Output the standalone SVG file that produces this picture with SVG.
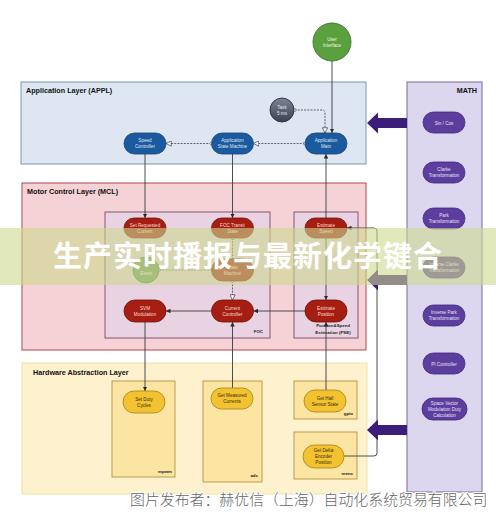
<svg xmlns="http://www.w3.org/2000/svg" width="496" height="514" viewBox="0 0 496 514">
<defs>
<style>
.layer{font-family:"Liberation Sans",Arial,sans-serif;font-weight:700;font-size:7.2px;fill:#111}
.sub{font-family:"Liberation Sans",Arial,sans-serif;font-weight:700;font-size:4.4px;fill:#222}
.nt{font-family:"Liberation Sans",Arial,sans-serif;font-size:4.6px;text-anchor:middle}
.blue rect{fill:#1b5a9f;stroke:#134577;stroke-width:0.8}
.blue text{fill:#dfe8f4}
.red rect{fill:#a61e12;stroke:#6e120a;stroke-width:0.8}
.red text{fill:#f5dcd5}
.yel rect{fill:#f2c230;stroke:#a5821c;stroke-width:0.8}
.yel text{fill:#3a2e0a}
.pur rect{fill:#5b3e9e;stroke:#3f2a78;stroke-width:0.8}
.pur text{fill:#e8e0f6}
.ln{fill:none;stroke:#3a3a3a;stroke-width:0.9}
.ds{fill:none;stroke:#555;stroke-width:0.9;stroke-dasharray:2 1.2}
.big{fill:#3b1d7a}
</style>
<linearGradient id="gt" x1="0" y1="0" x2="0" y2="1">
<stop offset="0" stop-color="#7b8396"/><stop offset="1" stop-color="#3a4152"/>
</linearGradient>
<marker id="af" viewBox="0 0 6 6" refX="6" refY="3" markerWidth="4.5" markerHeight="4.5" markerUnits="userSpaceOnUse" orient="auto-start-reverse"><path d="M0,0 L6,3 L0,6 z" fill="#2a2a2a"/></marker>
<marker id="ao" viewBox="0 0 8 8" refX="7.5" refY="4" markerWidth="6" markerHeight="6" markerUnits="userSpaceOnUse" orient="auto"><path d="M0.5,0.5 L7.5,4 L0.5,7.5 z" fill="#fff" stroke="#333" stroke-width="0.9"/></marker>
<marker id="cs" viewBox="0 0 6 6" refX="3" refY="3" markerWidth="4" markerHeight="4" markerUnits="userSpaceOnUse"><circle cx="3" cy="3" r="2.3" fill="#fff" stroke="#444" stroke-width="0.9"/></marker>
</defs>
<rect width="496" height="514" fill="#fff"/>

<!-- layers -->
<g id="appl-layer">
<rect x="21" y="82" width="345" height="82" fill="#dde6f1" stroke="#7d97ad" stroke-width="1"/>
<text class="layer" x="26" y="93">Application Layer (APPL)</text>
</g>
<g id="mcl-layer">
<rect x="22" y="183" width="344" height="167" fill="#f5d2d5" stroke="#b4444e" stroke-width="1"/>
<text class="layer" x="27" y="194">Motor Control Layer (MCL)</text>
<rect x="105" y="212" width="165" height="126" fill="#e9d2e2" stroke="#7a4a66" stroke-width="0.9"/>
<text class="sub" x="263" y="333" text-anchor="end">FOC</text>
<rect x="294" y="212" width="64" height="126" fill="#e9d2e2" stroke="#7a4a66" stroke-width="0.9"/>
<text class="sub" x="333" y="327" text-anchor="middle">Position&amp;Speed</text>
<text class="sub" x="333" y="334" text-anchor="middle">Estimation (PSE)</text>
</g>
<g id="hal-layer">
<rect x="22" y="363" width="345" height="131" fill="#fef1cd" stroke="#f1e1a6" stroke-width="1"/>
<text class="layer" x="33" y="375">Hardware Abstraction Layer</text>
<rect x="112" y="381" width="63" height="96" fill="#fce4a2" stroke="#b39444" stroke-width="0.9"/>
<text class="sub" x="172" y="473" text-anchor="end">mpwm</text>
<rect x="203" y="381" width="59" height="101" fill="#fce4a2" stroke="#b39444" stroke-width="0.9"/>
<text class="sub" x="258" y="477" text-anchor="end">adc</text>
<rect x="294" y="381" width="63" height="38" fill="#fce4a2" stroke="#b39444" stroke-width="0.9"/>
<text class="sub" x="353" y="415" text-anchor="end">gpio</text>
<rect x="294" y="432" width="63" height="47" fill="#fce4a2" stroke="#b39444" stroke-width="0.9"/>
<text class="sub" x="353" y="475" text-anchor="end">menc</text>
</g>
<g id="math-layer">
<rect x="407" y="82" width="75" height="410" fill="#dcd6ee" stroke="#7a6a9a" stroke-width="1"/>
<text class="layer" x="477" y="93" text-anchor="end">MATH</text>
</g>

<!-- connectors -->
<g id="connectors">
<path class="ln" d="M332,61 V133" marker-end="url(#af)"/>
<path class="ds" d="M294.5,110 H322 Q325,110 325,113 V133" marker-start="url(#cs)" marker-end="url(#ao)"/>
<path class="ds" d="M305,143.5 H253.5" marker-start="url(#cs)" marker-end="url(#ao)"/>
<path class="ds" d="M211.5,143.5 H166" marker-start="url(#cs)" marker-end="url(#ao)"/>
<path class="ln" d="M145,154 V218" marker-end="url(#af)"/>
<path class="ln" d="M232.5,154 V218" marker-end="url(#af)"/>
<path class="ln" d="M326,154 V300" marker-start="url(#af)" marker-end="url(#af)"/>
<path class="ds" d="M232.5,238 V259" marker-start="url(#cs)"/>
<path class="ds" d="M159,270 H211.5" marker-start="url(#cs)"/>
<path class="ds" d="M232.5,281 V300" marker-start="url(#cs)" marker-end="url(#ao)"/>
<path class="ln" d="M211.5,311 H166" marker-end="url(#af)"/>
<path class="ln" d="M305,311 H253.5" marker-end="url(#af)"/>
<path class="ln" d="M145,322 V391" marker-end="url(#af)"/>
<path class="ln" d="M232.5,388 V322" marker-end="url(#af)"/>
<path class="ln" d="M326,390 V322" marker-end="url(#af)"/>
<path class="ln" d="M344,456 H374 Q377,456 377,453 V231 Q377,228 374,228 H347" marker-end="url(#af)"/>
<polygon class="big" points="367,123 378,112.5 378,118 407,118 407,128 378,128 378,133.5"/>
<polygon class="big" points="367,280 378,269.5 378,275 407,275 407,285 378,285 378,290.5"/>
<polygon class="big" points="367,430 378,419.5 378,425 407,425 407,435 378,435 378,440.5"/>
</g>

<!-- APPL nodes -->
<g id="user-interface">
<circle cx="332" cy="42" r="19" fill="#5aa03c" stroke="#3c7028" stroke-width="0.9"/>
<text class="nt" fill="#eef6e8"><tspan x="332" y="41">User</tspan><tspan x="332" y="47">Interface</tspan></text>
</g>
<g id="task-5ms">
<circle cx="282" cy="110" r="12" fill="url(#gt)" stroke="#2a2f3a" stroke-width="0.9"/>
<text class="nt" fill="#e6e8ee"><tspan x="282" y="109">Task</tspan><tspan x="282" y="115">5 ms</tspan></text>
</g>
<g id="speed-controller" class="blue">
<rect x="124" y="133" width="42" height="21" rx="10.5"/>
<text class="nt"><tspan x="145" y="142">Speed</tspan><tspan x="145" y="148">Controller</tspan></text>
</g>
<g id="app-state-machine" class="blue">
<rect x="211.5" y="133" width="42" height="21" rx="10.5"/>
<text class="nt"><tspan x="232.5" y="142">Application</tspan><tspan x="232.5" y="148">State Machine</tspan></text>
</g>
<g id="app-main" class="blue">
<rect x="305" y="133" width="42" height="21" rx="10.5"/>
<text class="nt"><tspan x="326" y="142">Application</tspan><tspan x="326" y="148">Main</tspan></text>
</g>

<!-- MCL nodes -->
<g id="set-requested-current" class="red">
<rect x="124" y="218" width="42" height="20" rx="10"/>
<text class="nt"><tspan x="145" y="226.5">Set Requested</tspan><tspan x="145" y="232.5">Current</tspan></text>
</g>
<g id="foc-transit-state" class="red">
<rect x="211.5" y="218" width="42" height="20" rx="10"/>
<text class="nt"><tspan x="232.5" y="226.5">FOC Transit</tspan><tspan x="232.5" y="232.5">State</tspan></text>
</g>
<g id="estimate-speed" class="red">
<rect x="305" y="218" width="42" height="20" rx="10"/>
<text class="nt"><tspan x="326" y="226.5">Estimate</tspan><tspan x="326" y="232.5">Speed</tspan></text>
</g>
<g id="event">
<circle cx="146" cy="270" r="13" fill="#6f9a60" stroke="#4a6e3e" stroke-width="0.9"/>
<text class="nt" fill="#eef4ea" x="146" y="275">Event</text>
</g>
<g id="state-machine" class="red">
<rect x="211.5" y="259" width="42" height="22" rx="11"/>
<text class="nt"><tspan x="232.5" y="268.5">State</tspan><tspan x="232.5" y="274.5">Machine</tspan></text>
</g>
<g id="svm-modulation" class="red">
<rect x="124" y="300" width="42" height="22" rx="11"/>
<text class="nt"><tspan x="145" y="309.5">SVM</tspan><tspan x="145" y="315.5">Modulation</tspan></text>
</g>
<g id="current-controller" class="red">
<rect x="211.5" y="300" width="42" height="22" rx="11"/>
<text class="nt"><tspan x="232.5" y="309.5">Current</tspan><tspan x="232.5" y="315.5">Controller</tspan></text>
</g>
<g id="estimate-position" class="red">
<rect x="305" y="300" width="42" height="22" rx="11"/>
<text class="nt"><tspan x="326" y="309.5">Estimate</tspan><tspan x="326" y="315.5">Position</tspan></text>
</g>

<!-- HAL nodes -->
<g id="set-duty-cycles" class="yel">
<rect x="123" y="391" width="42" height="22" rx="11"/>
<text class="nt"><tspan x="144" y="400.5">Set Duty</tspan><tspan x="144" y="406.5">Cycles</tspan></text>
</g>
<g id="get-measured-currents" class="yel">
<rect x="211" y="388" width="42" height="21" rx="10.5"/>
<text class="nt"><tspan x="232" y="397">Get Measured</tspan><tspan x="232" y="403">Currents</tspan></text>
</g>
<g id="get-hall-sensor-state" class="yel">
<rect x="304" y="390" width="42" height="22" rx="11"/>
<text class="nt"><tspan x="325" y="399.5">Get Hall</tspan><tspan x="325" y="405.5">Sensor State</tspan></text>
</g>
<g id="get-delta-encoder-position" class="yel">
<rect x="303" y="445" width="41" height="23" rx="11.5"/>
<text class="nt"><tspan x="323.5" y="451.5">Get Delta</tspan><tspan x="323.5" y="457.5">Encoder</tspan><tspan x="323.5" y="463.5">Position</tspan></text>
</g>

<!-- MATH nodes -->
<g id="sin-cos" class="pur">
<rect x="423" y="112" width="42" height="21" rx="10.5"/>
<text class="nt" x="444" y="124.5">Sin / Cos</text>
</g>
<g id="clarke" class="pur">
<rect x="423" y="162" width="42" height="21" rx="10.5"/>
<text class="nt"><tspan x="444" y="171">Clarke</tspan><tspan x="444" y="177">Transformation</tspan></text>
</g>
<g id="park" class="pur">
<rect x="423" y="208" width="42" height="21" rx="10.5"/>
<text class="nt"><tspan x="444" y="217">Park</tspan><tspan x="444" y="223">Transformation</tspan></text>
</g>
<g id="inverse-clarke" class="pur">
<rect x="423" y="257" width="42" height="21" rx="10.5"/>
<text class="nt"><tspan x="444" y="266">Inverse Clarke</tspan><tspan x="444" y="272">Transformation</tspan></text>
</g>
<g id="inverse-park" class="pur">
<rect x="423" y="305" width="42" height="21" rx="10.5"/>
<text class="nt"><tspan x="444" y="314">Inverse Park</tspan><tspan x="444" y="320">Transformation</tspan></text>
</g>
<g id="pi-controller" class="pur">
<rect x="423" y="353" width="42" height="21" rx="10.5"/>
<text class="nt" x="444" y="365.5">PI Controller</text>
</g>
<g id="svm-duty" class="pur">
<rect x="422" y="398" width="45" height="22" rx="11"/>
<text class="nt"><tspan x="444.5" y="404.5">Space Vector</tspan><tspan x="444.5" y="410.5">Modulation Duty</tspan><tspan x="444.5" y="416.5">Calculation</tspan></text>
</g>

<!-- watermark overlay -->
<rect x="0" y="228" width="496" height="57" fill="#cdd890" opacity="0.6"/>
<text x="248" y="267" text-anchor="middle" font-family="'Noto Sans CJK SC',sans-serif" font-weight="700" font-size="29" letter-spacing="1" fill="#fff">生产实时播报与最新化学键合</text>
<text x="130" y="505" font-family="'Noto Sans CJK SC',sans-serif" font-weight="300" font-size="14.9" fill="#666" stroke="#fff" stroke-width="2" paint-order="stroke">图片发布者：赫优信（上海）自动化系统贸易有限公司</text>
</svg>
